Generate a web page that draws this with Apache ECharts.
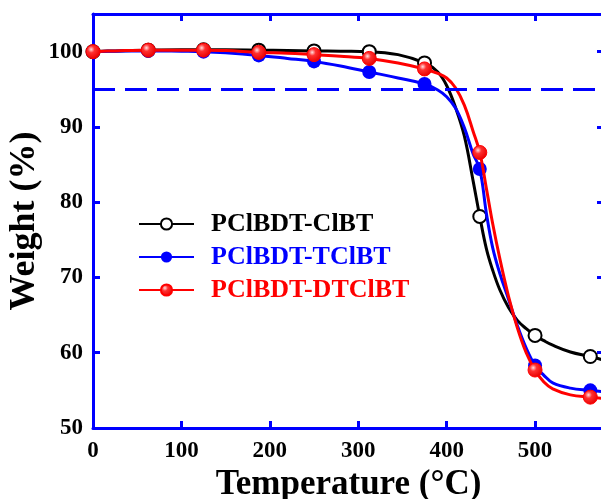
<!DOCTYPE html>
<html>
<head>
<meta charset="utf-8">
<script src="https://cdn.jsdelivr.net/npm/echarts@6/dist/echarts.min.js"></script>
<style>
html,body{margin:0;padding:0;background:#fff;}
#chart{width:601px;height:499px;}
</style>
</head>
<body>
<div id="chart"></div>
<script>
// ---- data ----
const temps = [0, 25, 62.5, 100, 125, 150, 187.5, 220, 250, 280, 312.5, 345, 375, 390, 400, 410, 420, 430, 437.5, 445, 452, 460, 470, 480, 490, 500, 510, 520, 540, 562.5, 578];
const markerTemps = [0, 62.5, 125, 187.5, 250, 312.5, 375, 437.5, 500, 562.5];
const weightClBT   = [100.0, 100.1, 100.2, 100.25, 100.25, 100.25, 100.2, 100.15, 100.1, 100.05, 100.0, 99.6, 98.5, 97.3, 95.5, 92.6, 88.8, 82.8, 78.1, 73.8, 71.0, 68.4, 66.0, 64.3, 63.2, 62.3, 61.6, 61.0, 60.1, 59.5, 59.0];
const weightTClBT  = [100.0, 100.05, 100.1, 100.05, 100.0, 99.85, 99.5, 99.1, 98.7, 98.1, 97.3, 96.5, 95.7, 94.9, 94.0, 92.5, 89.9, 86.4, 84.4, 78.5, 74.0, 70.6, 67.1, 63.6, 60.6, 58.3, 57.0, 56.0, 55.3, 55.0, 54.8];
const weightDTClBT = [100.0, 100.1, 100.2, 100.2, 100.2, 100.15, 99.9, 99.8, 99.6, 99.4, 99.1, 98.5, 97.7, 97.1, 96.5, 95.2, 92.9, 89.4, 86.6, 81.8, 77.2, 72.6, 67.5, 63.3, 60.0, 57.7, 56.1, 55.2, 54.4, 54.1, 53.9];
const seriesNames = ['PClBDT-ClBT', 'PClBDT-TClBT', 'PClBDT-DTClBT'];
const xTicks = [0, 100, 200, 300, 400, 500];
const yTicks = [50, 60, 70, 80, 90, 100];
const thresholdWeight = 95;

// ---- chart ----
const FONT = '"Liberation Serif", "Times New Roman", serif';
const BLUE = '#0000ff';
function build(ys) {
  return temps.map((t, i) => {
    const item = { value: [t, ys[i]] };
    if (markerTemps.indexOf(t) < 0) item.symbol = 'none';
    return item;
  });
}
const axisCommon = {
  axisLine: { show: true, onZero: false, lineStyle: { color: BLUE, width: 3 } },
  axisTick: { show: true, inside: true, length: 7, lineStyle: { color: BLUE, width: 3 } },
  splitLine: { show: false }
};
const labelStyle = { color: '#000', fontFamily: FONT, fontWeight: 'bold', fontSize: 23 };

const chart = echarts.init(document.getElementById('chart'), null, { renderer: 'canvas' });
chart.setOption({
  animation: false,
  backgroundColor: '#ffffff',
  grid: { left: 93, right: -3, top: 14, bottom: 71, containLabel: false, outerBoundsMode: 'none' },
  legend: {
    orient: 'vertical',
    left: 138,
    top: 211,
    padding: 0,
    itemWidth: 55,
    itemHeight: 14,
    itemGap: 7,
    selectedMode: false,
    textStyle: { fontFamily: FONT, fontWeight: 'bold', fontSize: 26, lineHeight: 23, padding: [0, 0, 0, 12] },
    data: [
      { name: seriesNames[0], textStyle: { color: '#000000' } },
      { name: seriesNames[1], textStyle: { color: '#0000ff' } },
      { name: seriesNames[2], textStyle: { color: '#ff0000' } }
    ]
  },
  xAxis: [
    Object.assign({}, axisCommon, {
      type: 'value', position: 'bottom', min: xTicks[0], max: 578, interval: 100,
      name: 'Temperature (\u00B0C)', nameLocation: 'middle', nameGap: 37,
      nameTextStyle: { color: '#000', fontFamily: FONT, fontWeight: 'bold', fontSize: 35 },
      axisLabel: Object.assign({ margin: 12, showMaxLabel: false,
        formatter: v => xTicks.indexOf(v) >= 0 ? String(v) : '' }, labelStyle)
    }),
    Object.assign({}, axisCommon, {
      type: 'value', position: 'top', min: xTicks[0], max: 578, interval: 100,
      axisLabel: { show: false }
    })
  ],
  yAxis: [
    Object.assign({}, axisCommon, {
      type: 'value', position: 'left', min: yTicks[0], max: 105, interval: 10,
      name: 'Weight (%)', nameLocation: 'middle', nameGap: 50, nameMoveOverlap: false,
      nameTextStyle: { color: '#000', fontFamily: FONT, fontWeight: 'bold', fontSize: 36 },
      axisLabel: Object.assign({ margin: 10, showMaxLabel: false,
        formatter: v => yTicks.indexOf(v) >= 0 ? String(v) : '' }, labelStyle)
    }),
    Object.assign({}, axisCommon, {
      type: 'value', position: 'right', min: yTicks[0], max: 105, interval: 10,
      axisLabel: { show: false }
    })
  ],
  series: [
    {
      name: seriesNames[0], type: 'line', smooth: 0.4,
      symbol: 'emptyCircle', symbolSize: 13, showAllSymbol: true,
      color: '#000000',
      lineStyle: { color: '#000000', width: 3 },
      itemStyle: { color: '#000000', borderColor: '#000000', borderWidth: 1.5 },
      data: build(weightClBT),
      markLine: {
        silent: true, symbol: 'none', label: { show: false },
        lineStyle: { color: BLUE, type: [22, 10], width: 3 },
        data: [{ yAxis: thresholdWeight }]
      },
      z: 2
    },
    {
      name: seriesNames[1], type: 'line', smooth: 0.4,
      symbol: 'circle', symbolSize: 14, showAllSymbol: true,
      color: '#0000ff',
      lineStyle: { color: '#0000ff', width: 3 },
      itemStyle: { color: '#0000ff' },
      data: build(weightTClBT),
      z: 3
    },
    {
      name: seriesNames[2], type: 'line', smooth: 0.4,
      symbol: 'circle', symbolSize: 14, showAllSymbol: true,
      color: '#ff0000',
      lineStyle: { color: '#ff0000', width: 3 },
      itemStyle: {
        color: { type: 'radial', x: 0.38, y: 0.35, r: 0.65,
          colorStops: [ { offset: 0, color: '#ffe0e0' }, { offset: 0.35, color: '#ff3030' }, { offset: 1, color: '#e80000' } ] },
        borderColor: '#ff0000', borderWidth: 1
      },
      data: build(weightDTClBT),
      z: 4
    }
  ]
});
</script>
</body>
</html>
